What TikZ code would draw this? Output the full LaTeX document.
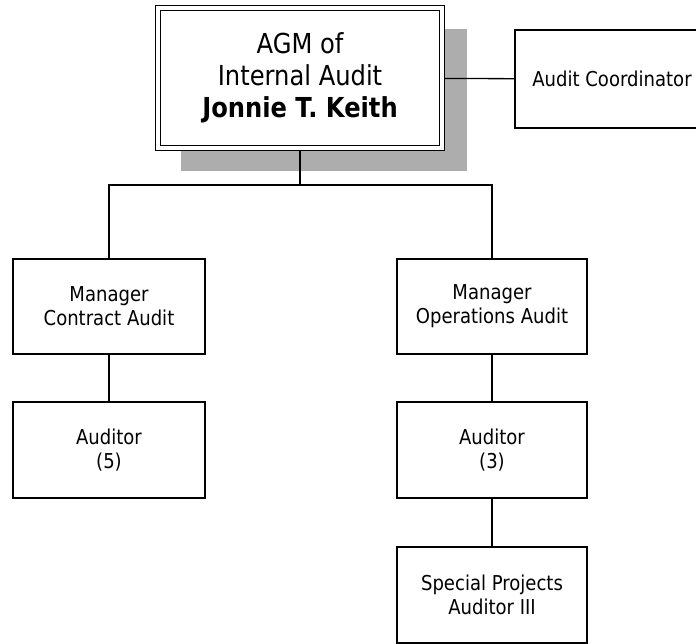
\documentclass[tikz,border=0pt]{standalone}
\usepackage{fontspec}
\setmainfont[FakeStretch=0.88]{DejaVu Sans}
\usetikzlibrary{backgrounds}
\begin{document}
\begin{tikzpicture}[x=1pt,y=-1pt,
  box/.style={draw=black, line width=1.3pt, fill=white, rectangle, align=center, inner sep=0pt, font=\fontsize{20.5}{24}\selectfont},
  topbox/.style={box, double, double distance=3.6pt, font=\fontsize{27.5}{32}\selectfont},
  wire/.style={draw=black, line width=1.3pt},
  shadowfill/.style={fill=black!32}
  ]
\useasboundingbox (0,0) rectangle (696,644);
\node[topbox, minimum width=284pt, minimum height=140pt] (agm) at (300,78) {AGM of\\Internal Audit\\\textbf{Jonnie T. Keith}};
\node[box, minimum width=194pt, minimum height=98pt] (coord) at (612,79) {Audit Coordinator};
\node[box, minimum width=192pt, minimum height=95pt] (mca) at (109,306.5) {Manager\\Contract Audit};
\node[box, minimum width=190pt, minimum height=95pt] (moa) at (492,306.5) {Manager\\Operations Audit};
\node[box, minimum width=192pt, minimum height=96pt] (a5) at (109,450) {Auditor\\(5)};
\node[box, minimum width=190pt, minimum height=96pt] (a3) at (492,450) {Auditor\\(3)};
\node[box, minimum width=190pt, minimum height=96pt] (sp) at (492,595) {Special Projects\\Auditor III};
\coordinate (bus) at (300,185);
\begin{scope}[on background layer]
  \fill[shadowfill] ([shift={(24,22)}]agm.north west) rectangle ([shift={(24,22)}]agm.south east);
  \draw[wire] (agm.center) -- (coord.center);
  \draw[wire] (agm.center) -- (bus);
  \draw[wire] (mca.north) |- (bus) -| (moa.north);
  \draw[wire] (mca) -- (a5);
  \draw[wire] (moa) -- (a3);
  \draw[wire] (a3) -- (sp);
\end{scope}
\end{tikzpicture}
\end{document}
